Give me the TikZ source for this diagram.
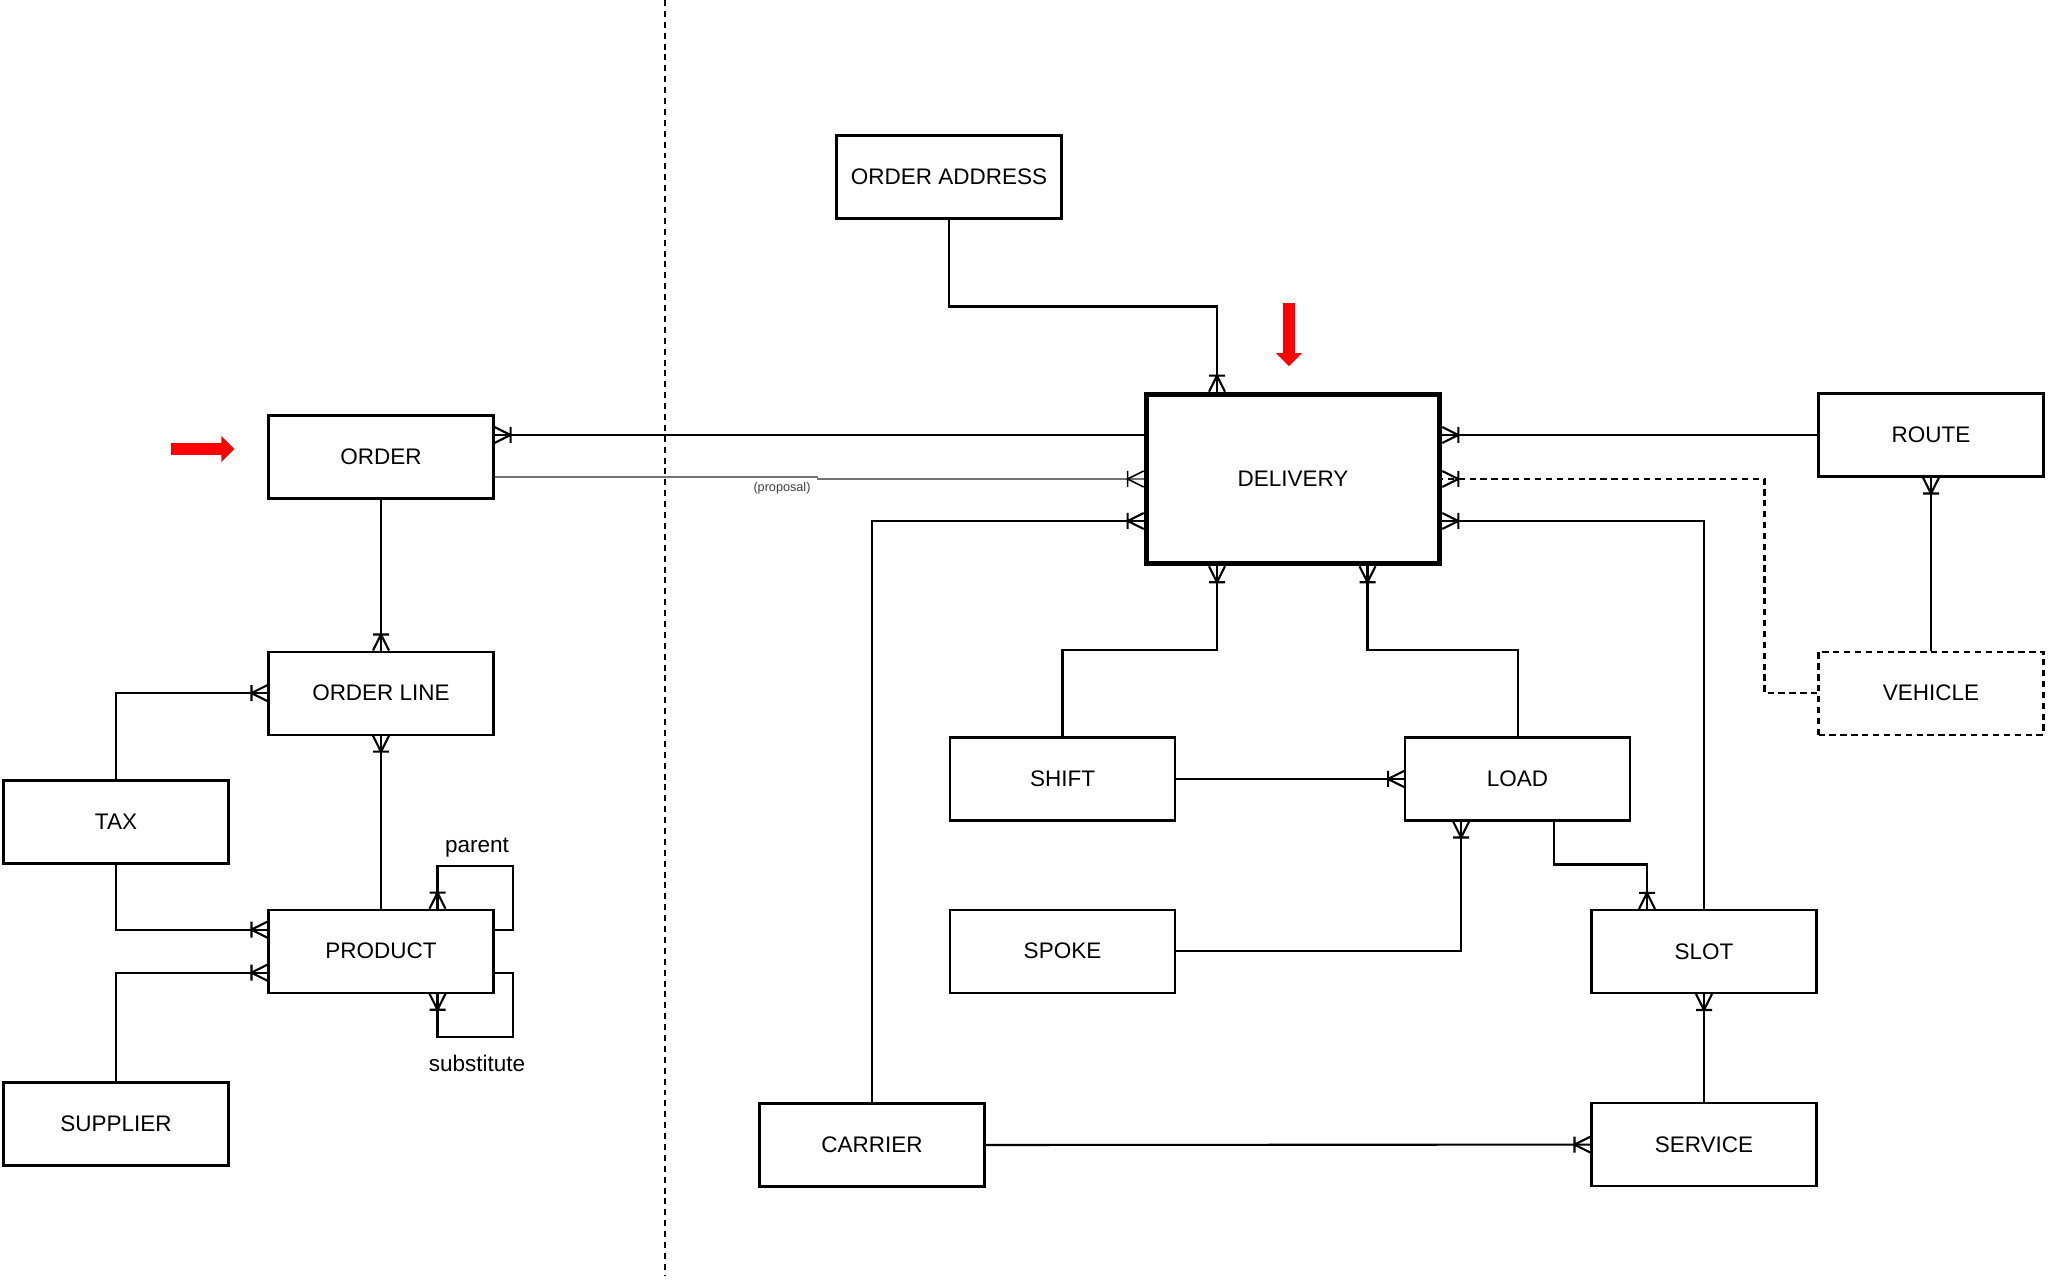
\documentclass[tikz,border=0pt]{standalone}
\usepackage{fontspec}
\setmainfont{Liberation Sans}
\usetikzlibrary{
    arrows.meta,    % For arrow styles
    positioning     % For relative positioning of nodes (e.g., below=of)
}

% Crow's foot with a bar (one or many)
\pgfdeclarearrow{
    name = Crow,
    parameters = {\the\pgfarrowlength,\the\pgfarrowwidth},
    setup code = {
        \pgfarrowssettipend{0pt}
        \pgfarrowssetlineend{0pt}
        \pgfarrowssetbackend{-\pgfarrowlength}
        \pgfarrowsupperhullpoint{0pt}{.5\pgfarrowwidth}
        \pgfarrowsupperhullpoint{-\pgfarrowlength}{.5\pgfarrowwidth}
        \pgfarrowssavethe\pgfarrowlength
        \pgfarrowssavethe\pgfarrowwidth
    },
    drawing code = {
        \pgfsetdash{}{0pt}
        \pgfpathmoveto{\pgfqpoint{0pt}{.5\pgfarrowwidth}}
        \pgfpathlineto{\pgfqpoint{-\pgfarrowlength}{0pt}}
        \pgfpathlineto{\pgfqpoint{0pt}{-.5\pgfarrowwidth}}
        \pgfpathmoveto{\pgfqpoint{-\pgfarrowlength}{.5\pgfarrowwidth}}
        \pgfpathlineto{\pgfqpoint{-\pgfarrowlength}{-.5\pgfarrowwidth}}
        \pgfusepathqstroke
    },
    defaults = {length = 1.6mm, width = 1.6mm}
}

\tikzset{
    % Style for the entity boxes
    entity/.style={
        draw,
        line width=0.6pt,
        rectangle,
        fill=white,
        align=center,
        minimum width=2.25cm,
        minimum height=0.83cm,
        inner sep=2pt,
        font=\fontsize{6.4}{7.7}\selectfont
    },
    % Style for the central entity
    core/.style={
        entity,
        line width=1.6pt,
        minimum width=2.93cm,
        minimum height=1.69cm
    },
    % Style for the optional entity
    weak/.style={
        entity,
        dash pattern=on 1.8pt off 1.3pt
    },
    % Style for the relation lines
    link/.style={
        -{Crow},
        line width=0.6pt
    },
    % Style for the thin proposal line
    hint/.style={
        -{Crow[color=black, line width=0.6pt]},
        draw=black!55,
        line width=0.45pt
    },
    % Style for small labels
    tag/.style={
        inner sep=0pt,
        font=\fontsize{6.4}{7.7}\selectfont
    },
    % Style for the red markers
    pointer/.style={
        red,
        line width=3.4pt,
        -{Triangle[length=1.3mm, width=2.5mm]}
    },
    % Style for the dividing line
    divider/.style={
        line width=0.6pt,
        dash pattern=on 1.7pt off 1.4pt
    }
}

\begin{document}
\begin{tikzpicture}[
            node distance=1cm and 1cm % Vertical and horizontal spacing
        ]
        \useasboundingbox (0,0) rectangle (20.48,-12.8);

        % --- Dividing line between the two halves ---
        \coordinate (split top)    at (6.65,0);
        \coordinate (split bottom) at (6.65,-12.75);
        \draw[divider] (split top) -- (split bottom);

        % --- LEFT SIDE: order entities ---
        \node (order)    [entity] at (3.81,-4.57) {ORDER};
        \node (oline)    [entity, below=1.51cm of order] {ORDER LINE};
        \node (product)  [entity, below=1.73cm of oline] {PRODUCT};
        \node (tax)      [entity] at (1.16,-8.22)  {TAX};
        \node (supplier) [entity] at (1.16,-11.24) {SUPPLIER};

        % --- RIGHT SIDE: delivery entities ---
        \node (delivery) [core]   at (12.93,-4.79) {DELIVERY};
        \node (address)  [entity] at (9.49,-1.77)  {ORDER ADDRESS};
        \node (route)    [entity] at (19.31,-4.35) {ROUTE};
        \node (vehicle)  [weak, below=1.73cm of route] {VEHICLE};
        \node (shift)    [entity] at (10.625,-7.79) {SHIFT};
        \node (load)     [entity, right=2.28cm of shift] {LOAD};
        \node (spoke)    [entity, below=0.87cm of shift] {SPOKE};
        \node (slot)     [entity] at (17.04,-9.515) {SLOT};
        \node (service)  [entity, below=1.08cm of slot] {SERVICE};
        \node (carrier)  [entity] at (8.72,-11.45) {CARRIER};

        % --- Labels ---
        \node (parent label)     [tag] at (4.77,-8.48)  {parent};
        \node (substitute label) [tag] at (4.77,-10.63) {substitute};
        \node (proposal label)   [tag, font=\fontsize{3.6}{4.3}\selectfont, text=black!75] at (7.82,-4.88) {(proposal)};

        % --- Relations on the left ---
        \draw[link] (order.south) -- (oline.north);
        \draw[link] (product.north) -- (oline.south);
        \draw[link] (tax.north) |- (oline.west);
        \draw[link] (tax.south) |- ([yshift=2.15mm]product.west);
        \draw[link] (supplier.north) |- ([yshift=-2.15mm]product.west);
        \draw[link] ([yshift=2.15mm]product.east) -- ++(0.185,0) |- ([xshift=5.65mm, yshift=4.3mm]product.north) -- ([xshift=5.65mm]product.north);
        \draw[link] ([yshift=-2.15mm]product.east) -- ++(0.185,0) |- ([xshift=5.65mm, yshift=-4.3mm]product.south) -- ([xshift=5.65mm]product.south);

        % --- Relations between order and delivery ---
        \draw[link] ([yshift=4.4mm]delivery.west) -- ([yshift=4.4mm]delivery.west -| order.east);
        \draw[hint] ([yshift=-2mm]order.east) -- ++(3.23,0) |- (delivery.west);

        % --- Relations on the right ---
        \draw[link] (address.south) -- ++(0,-0.87) -| ([xshift=-7.6mm]delivery.north);
        \draw[link] (carrier.north) |- ([yshift=-4.2mm]delivery.west);
        \draw[link] (route.west) -- (route.west -| delivery.east);
        \draw[link, dash pattern=on 1.8pt off 1.3pt] (vehicle.west) -- ++(-0.53,0) |- (delivery.east);
        \draw[link] (slot.north) |- ([yshift=-4.2mm]delivery.east);
        \draw[link] (vehicle.north) -- (route.south);
        \draw[link] (shift.north) -- ++(0,0.865) -| ([xshift=-7.6mm]delivery.south);
        \draw[link] (load.north) -- ++(0,0.865) -| ([xshift=7.45mm]delivery.south);
        \draw[link] (shift.east) -- (load.west);
        \draw[link] (spoke.east) -| ([xshift=-5.65mm]load.south);
        \draw[link] ([xshift=3.6mm]load.south) -- ++(0,-0.43) -| ([xshift=-5.7mm]slot.north);
        \draw[link] (service.north) -- (slot.south);
        \draw[link] (carrier.east) -- (service.west);

        % --- Red markers ---
        \coordinate (order mark)    at ([xshift=-3.3mm, yshift=0.8mm]order.west);
        \coordinate (delivery mark) at ([xshift=-0.4mm, yshift=2.55mm]delivery.north);
        \draw[pointer] ([xshift=-6.3mm]order mark) -- (order mark);
        \draw[pointer] ([yshift=6.3mm]delivery mark) -- (delivery mark);

        \end{tikzpicture}
\end{document}
